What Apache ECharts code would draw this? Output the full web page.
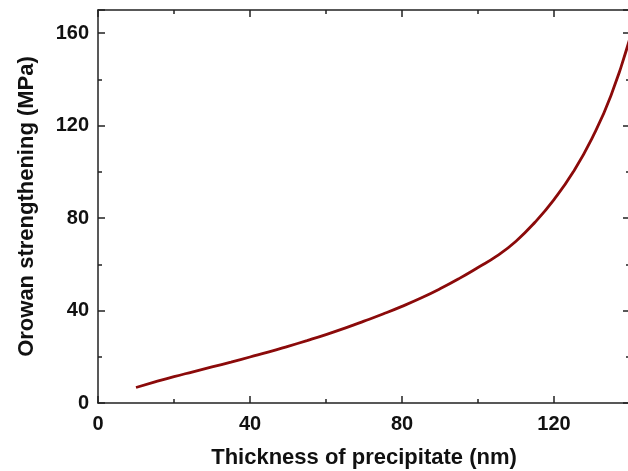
<!DOCTYPE html>
<html>
<head>
<meta charset="utf-8">
<script src="https://cdn.jsdelivr.net/npm/echarts@6/dist/echarts.min.js"></script>
<style>
  html, body { margin: 0; padding: 0; background: #fff; }
  #chart { width: 628px; height: 471px; }
</style>
</head>
<body>
<div id="chart"></div>
<script>
// thickness (nm) vs Orowan strengthening (MPa)
var thickness = [10, 15, 20, 25, 30, 35, 40, 45, 50, 55, 60, 65, 70, 75, 80, 85, 90, 95, 100, 105, 110, 115, 120, 125, 130, 135, 140];
var strengthening = [6.7, 9.1, 11.4, 13.5, 15.6, 17.7, 19.9, 22.1, 24.5, 27.0, 29.6, 32.4, 35.4, 38.5, 41.8, 45.4, 49.4, 53.8, 58.6, 63.6, 70.0, 78.2, 88.0, 99.8, 114.5, 133, 158];

var xTicks = [0, 40, 80, 120];
var yTicks = [0, 40, 80, 120, 160];

var lineColor = '#8b0a0a';
var axisColor = '#222';
var font = 'Liberation Sans, Arial, sans-serif';

var pts = [];
for (var i = 0; i < thickness.length; i++) {
    pts.push([thickness[i], strengthening[i]]);
}

function axisBase(show) {
    return {
        axisLine: { show: true, onZero: false, lineStyle: { color: axisColor, width: 1.5 } },
        axisTick: { show: true, inside: true, length: 7, lineStyle: { color: axisColor, width: 1.5 } },
        minorTick: { show: true, splitNumber: 2, length: 4, lineStyle: { color: axisColor, width: 1.5 } },
        splitLine: { show: false },
        axisLabel: {
            show: show,
            color: '#111',
            fontFamily: font,
            fontWeight: 'bold',
            fontSize: 20
        }
    };
}

var xBottom = axisBase(true);
xBottom.type = 'value';
xBottom.min = 0;
xBottom.max = 140;
xBottom.interval = 40;
xBottom.position = 'bottom';
xBottom.axisLabel.margin = 11;
xBottom.axisLabel.formatter = function (v) { return xTicks.indexOf(v) >= 0 ? v : ''; };
xBottom.name = 'Thickness of precipitate (nm)';
xBottom.nameLocation = 'middle';
xBottom.nameGap = 44;
xBottom.nameTextStyle = { fontFamily: font, fontWeight: 'bold', fontSize: 22, color: '#111' };

var xTop = axisBase(false);
xTop.type = 'value';
xTop.min = 0;
xTop.max = 140;
xTop.interval = 40;
xTop.position = 'top';

var yLeft = axisBase(true);
yLeft.type = 'value';
yLeft.min = 0;
yLeft.max = 170;
yLeft.interval = 40;
yLeft.position = 'left';
yLeft.axisLabel.margin = 9;
yLeft.axisLabel.formatter = function (v) { return yTicks.indexOf(v) >= 0 ? v : ''; };
yLeft.name = 'Orowan strengthening (MPa)';
yLeft.nameLocation = 'middle';
yLeft.nameGap = 60;
yLeft.nameTextStyle = { fontFamily: font, fontWeight: 'bold', fontSize: 22, color: '#111' };

var yRight = axisBase(false);
yRight.type = 'value';
yRight.min = 0;
yRight.max = 170;
yRight.interval = 40;
yRight.position = 'right';

var chart = echarts.init(document.getElementById('chart'));
chart.setOption({
    animation: false,
    backgroundColor: '#fff',
    grid: { left: 98, top: 10, width: 532, height: 393, containLabel: false, outerBoundsMode: 'none' },
    xAxis: [xBottom, xTop],
    yAxis: [yLeft, yRight],
    series: [
        {
            type: 'line',
            data: pts,
            smooth: 0.5,
            showSymbol: false,
            clip: true,
            lineStyle: { color: lineColor, width: 2.8 }
        }
    ]
});
</script>
</body>
</html>
